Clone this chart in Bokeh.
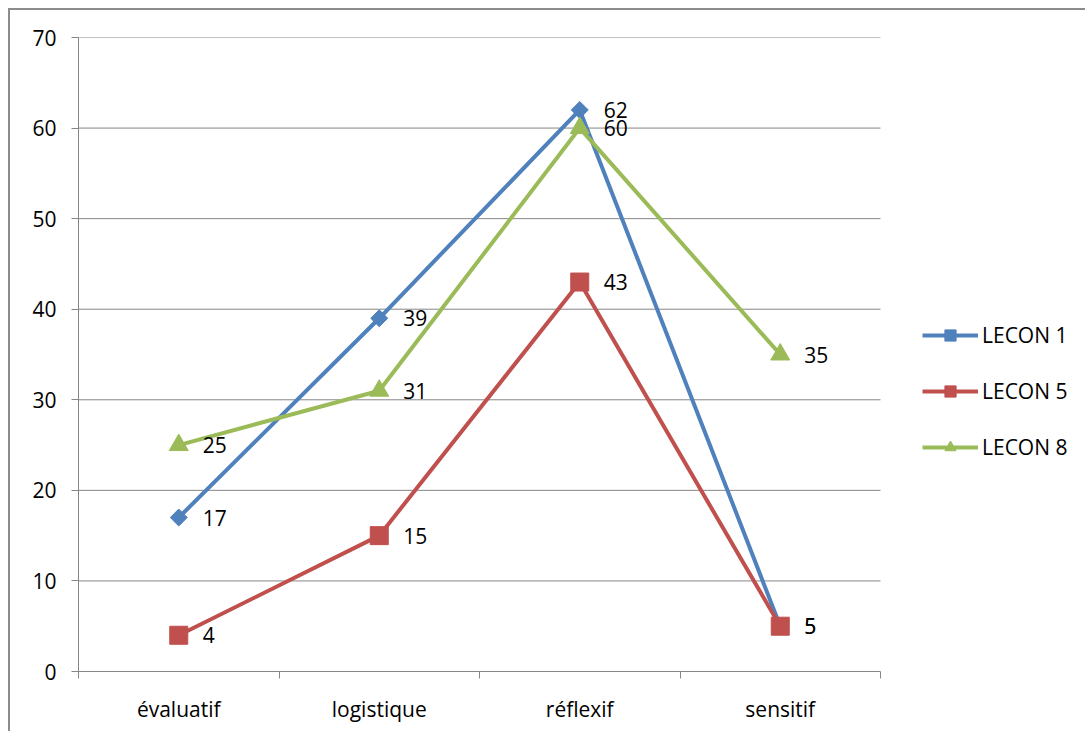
import math
from bokeh.plotting import figure
from bokeh.models import (ColumnDataSource, FixedTicker, Range1d, Legend, LegendItem,
                          LabelSet)
from bokeh.core.properties import value
from bokeh.embed import file_html
from bokeh.resources import INLINE

categories = ["évaluatif", "logistique", "réflexif", "sensitif"]
lecon1 = [17, 39, 62, 5]
lecon5 = [4, 15, 43, 5]
lecon8 = [25, 31, 60, 35]
series_names = ["LECON 1", "LECON 5", "LECON 8"]
y_ticks = [0, 10, 20, 30, 40, 50, 60, 70]

FONT = "Open Sans"
FS = "21px"
GRID = "#868686"

n = len(categories)
xs = [i + 0.5 for i in range(n)]
PLOT_W = 802      # pixel width of the category area
FRAME_W = 1009    # frame extends under the legend area
x_max = n * FRAME_W / PLOT_W

p = figure(width=1077, height=723, output_backend="svg", toolbar_location=None,
           x_range=Range1d(0, x_max), y_range=Range1d(0, 70),
           min_border_left=68, min_border_right=0, min_border_top=27, min_border_bottom=62)
p.styles = {"border-left": "2px solid #8c8c8c", "border-top": "2px solid #8c8c8c",
            "margin-left": "8px", "margin-top": "8px"}
p.outline_line_color = None
p.background_fill_color = "white"
p.border_fill_color = "white"

# axes
p.xaxis.ticker = FixedTicker(ticks=xs, minor_ticks=list(range(n + 1)))
p.xaxis.bounds = (0, n)
p.xaxis.major_label_overrides = {x: c for x, c in zip(xs, categories)}
p.xaxis.major_tick_line_color = None
p.xaxis.minor_tick_line_color = GRID
p.xaxis.minor_tick_in = 0
p.xaxis.minor_tick_out = 7
p.xaxis.axis_line_color = GRID
p.xaxis.major_label_standoff = 16
p.yaxis.ticker = FixedTicker(ticks=y_ticks)
p.yaxis.minor_tick_line_color = None
p.yaxis.major_tick_in = 0
p.yaxis.major_tick_out = 7
p.yaxis.major_tick_line_color = GRID
p.yaxis.axis_line_color = GRID
p.yaxis.major_label_standoff = 15
for ax in (p.xaxis, p.yaxis):
    ax.major_label_text_font = FONT
    ax.major_label_text_font_size = FS
    ax.major_label_text_color = "black"

p.xgrid.grid_line_color = None
p.ygrid.grid_line_color = None
grid_ys = [t for t in y_ticks if t > 0]
p.segment(x0=[0] * len(grid_ys), y0=grid_ys, x1=[n] * len(grid_ys), y1=grid_ys,
          line_color=GRID, line_width=1, level="underlay")

colors = ["#4F81BD", "#C0504D", "#9BBB59"]
markers = [("square", 12, math.pi / 4), ("square", 18, 0), ("triangle", 19, 0)]
items = []
for name, vals, col, (mk, sz, ang) in zip(series_names, [lecon1, lecon5, lecon8], colors, markers):
    src = ColumnDataSource(dict(x=xs, y=vals, lab=[str(v) for v in vals]))
    r1 = p.line("x", "y", source=src, line_color=col, line_width=4, line_join="round")
    r2 = p.scatter("x", "y", source=src, marker=mk, size=sz, angle=ang,
                   fill_color=col, line_color=col)
    p.add_layout(LabelSet(x="x", y="y", text="lab", source=src, x_offset=24, y_offset=0,
                          text_align="left", text_baseline="middle",
                          text_font=value(FONT), text_font_size=FS, text_color="black"))
    items.append(LegendItem(label=name, renderers=[r1, r2]))

legend = Legend(items=items, location=(844, 210), orientation="vertical",
                glyph_width=56, glyph_height=28, label_height=28, spacing=28,
                label_standoff=4, padding=0, margin=0,
                border_line_color=None, background_fill_alpha=0,
                label_text_font=FONT, label_text_font_size=FS, label_text_color="black")
p.add_layout(legend, "center")

open("out.html", "w").write(file_html(p, INLINE))
